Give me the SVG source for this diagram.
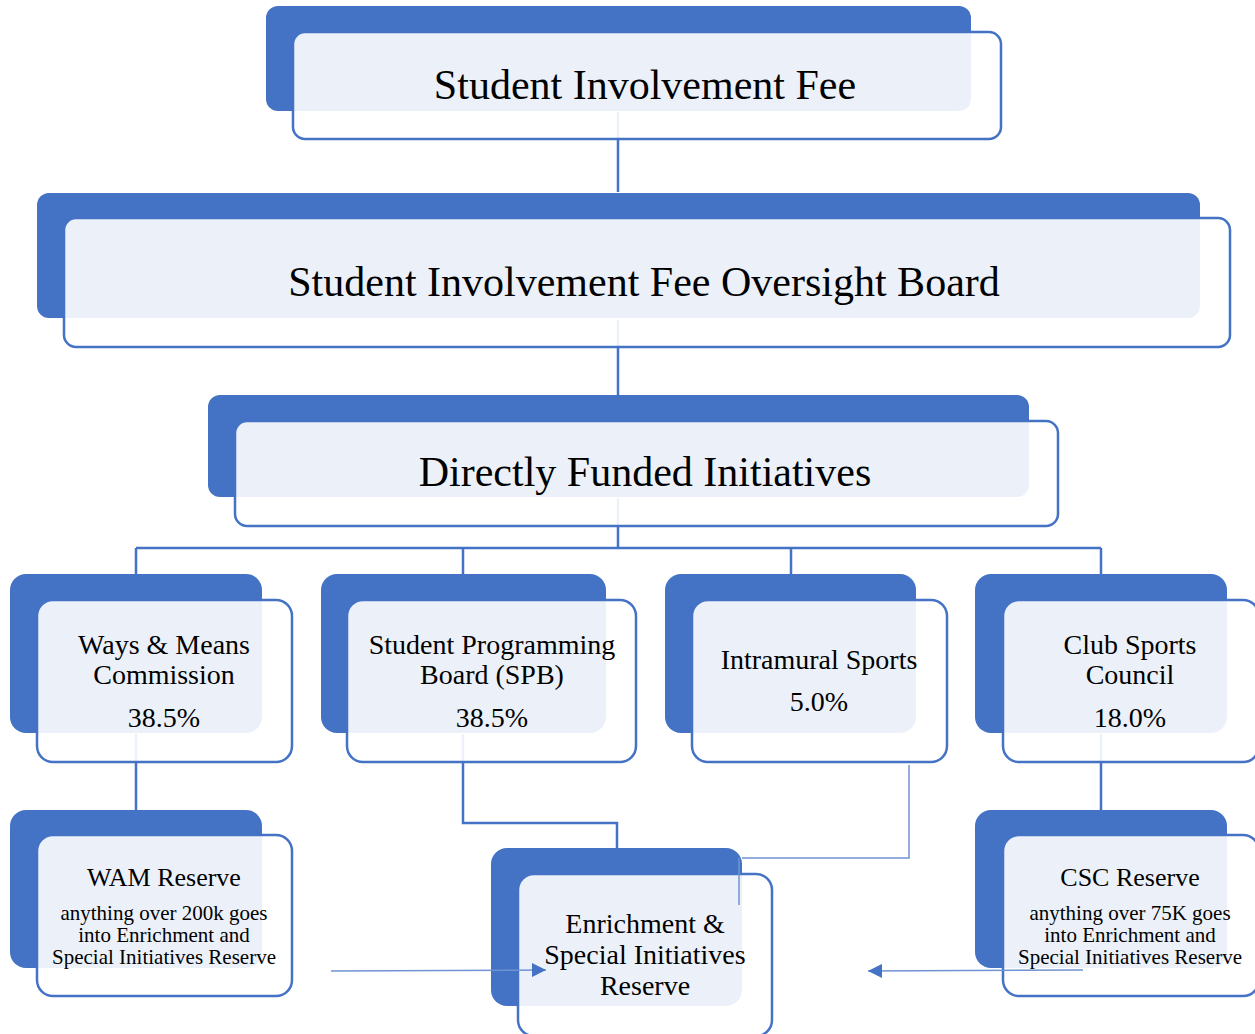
<svg xmlns="http://www.w3.org/2000/svg" width="1255" height="1034" viewBox="0 0 1255 1034">
<defs>
<style>
.back{fill:#4472C4;}
.front{fill:#ffffff;fill-opacity:0.9;stroke:#4472C4;stroke-width:2.5;}
.conn{fill:none;stroke:#4472C4;stroke-width:2.5;}
.thin{fill:none;stroke:#6F93D3;stroke-width:1.5;}
text{font-family:"Liberation Serif","Times New Roman",serif;fill:#000;text-anchor:middle;}
.t42{font-size:42px;}
.t28{font-size:28px;}
.t26{font-size:26px;}
.t21{font-size:21px;}
</style>
<marker id="arr" viewBox="0 0 10 10" refX="10" refY="5" markerWidth="14" markerHeight="14" markerUnits="userSpaceOnUse" orient="auto">
<path d="M0,0 L10,5 L0,10 Z" fill="#4472C4"/>
</marker>
</defs>
<rect width="1255" height="1034" fill="#ffffff"/>
<g id="connectors">
<path class="conn" d="M618,112 V192"/>
<path class="conn" d="M618,320 V396"/>
<path class="conn" d="M618,498 V548 M136,548 H1101 M136,548 V576 M463,548 V576 M791,548 V576 M1101,548 V576"/>
<path class="conn" d="M136,734 V811"/>
<path class="conn" d="M463,734 V823 H617 V850"/>
<path class="conn" d="M1101,734 V811"/>
<path class="thin" d="M909,765 V858 H742"/>
</g>
<g id="n1">
<rect class="back" x="266" y="6" width="705" height="105" rx="12"/>
<rect class="front" x="293" y="32" width="708" height="107" rx="12"/>
<text class="t42" x="645" y="99">Student Involvement Fee</text>
</g>
<g id="n2">
<rect class="back" x="37" y="193" width="1163" height="125" rx="12"/>
<rect class="front" x="64" y="218" width="1166" height="129" rx="12"/>
<text class="t42" x="644" y="296">Student Involvement Fee Oversight Board</text>
</g>
<g id="n3">
<rect class="back" x="208" y="395" width="821" height="102" rx="12"/>
<rect class="front" x="235" y="421" width="823" height="105" rx="12"/>
<text class="t42" x="645" y="486">Directly Funded Initiatives</text>
</g>
<g id="n4">
<rect class="back" x="10" y="574" width="252" height="159" rx="16"/>
<rect class="front" x="37" y="600" width="255" height="162" rx="16"/>
<text class="t28" x="164" y="654">Ways &amp; Means</text>
<text class="t28" x="164" y="684">Commission</text>
<text class="t28" x="164" y="727">38.5%</text>
</g>
<g id="n5">
<rect class="back" x="321" y="574" width="285" height="159" rx="16"/>
<rect class="front" x="347" y="600" width="289" height="162" rx="16"/>
<text class="t28" x="492" y="654">Student Programming</text>
<text class="t28" x="492" y="684">Board (SPB)</text>
<text class="t28" x="492" y="727">38.5%</text>
</g>
<g id="n6">
<rect class="back" x="665" y="574" width="251" height="159" rx="16"/>
<rect class="front" x="692" y="600" width="255" height="162" rx="16"/>
<text class="t28" x="819" y="669">Intramural Sports</text>
<text class="t28" x="819" y="711">5.0%</text>
</g>
<g id="n7">
<rect class="back" x="975" y="574" width="252" height="159" rx="16"/>
<rect class="front" x="1003" y="600" width="256" height="162" rx="16"/>
<text class="t28" x="1130" y="654">Club Sports</text>
<text class="t28" x="1130" y="684">Council</text>
<text class="t28" x="1130" y="727">18.0%</text>
</g>
<g id="n8">
<rect class="back" x="10" y="810" width="252" height="158" rx="16"/>
<rect class="front" x="37" y="835" width="255" height="161" rx="16"/>
<text class="t26" x="164" y="886">WAM Reserve</text>
<text class="t21" x="164" y="920">anything over 200k goes</text>
<text class="t21" x="164" y="942">into Enrichment and</text>
<text class="t21" x="164" y="964">Special Initiatives Reserve</text>
</g>
<g id="n9">
<rect class="back" x="491" y="848" width="251" height="158" rx="16"/>
<rect class="front" x="518" y="874" width="254" height="162" rx="16"/>
<text class="t28" x="645" y="933">Enrichment &amp;</text>
<text class="t28" x="645" y="964">Special Initiatives</text>
<text class="t28" x="645" y="995">Reserve</text>
</g>
<g id="n10">
<rect class="back" x="975" y="810" width="252" height="158" rx="16"/>
<rect class="front" x="1003" y="835" width="256" height="161" rx="16"/>
<text class="t26" x="1130" y="886">CSC Reserve</text>
<text class="t21" x="1130" y="920">anything over 75K goes</text>
<text class="t21" x="1130" y="942">into Enrichment and</text>
<text class="t21" x="1130" y="964">Special Initiatives Reserve</text>
</g>
<g id="arrows">
<path class="thin" d="M739,858 V905"/>
<path class="thin" d="M331,971 L546,970" marker-end="url(#arr)"/>
<path class="thin" d="M1083,970 L868,971" marker-end="url(#arr)"/>
</g>
</svg>
